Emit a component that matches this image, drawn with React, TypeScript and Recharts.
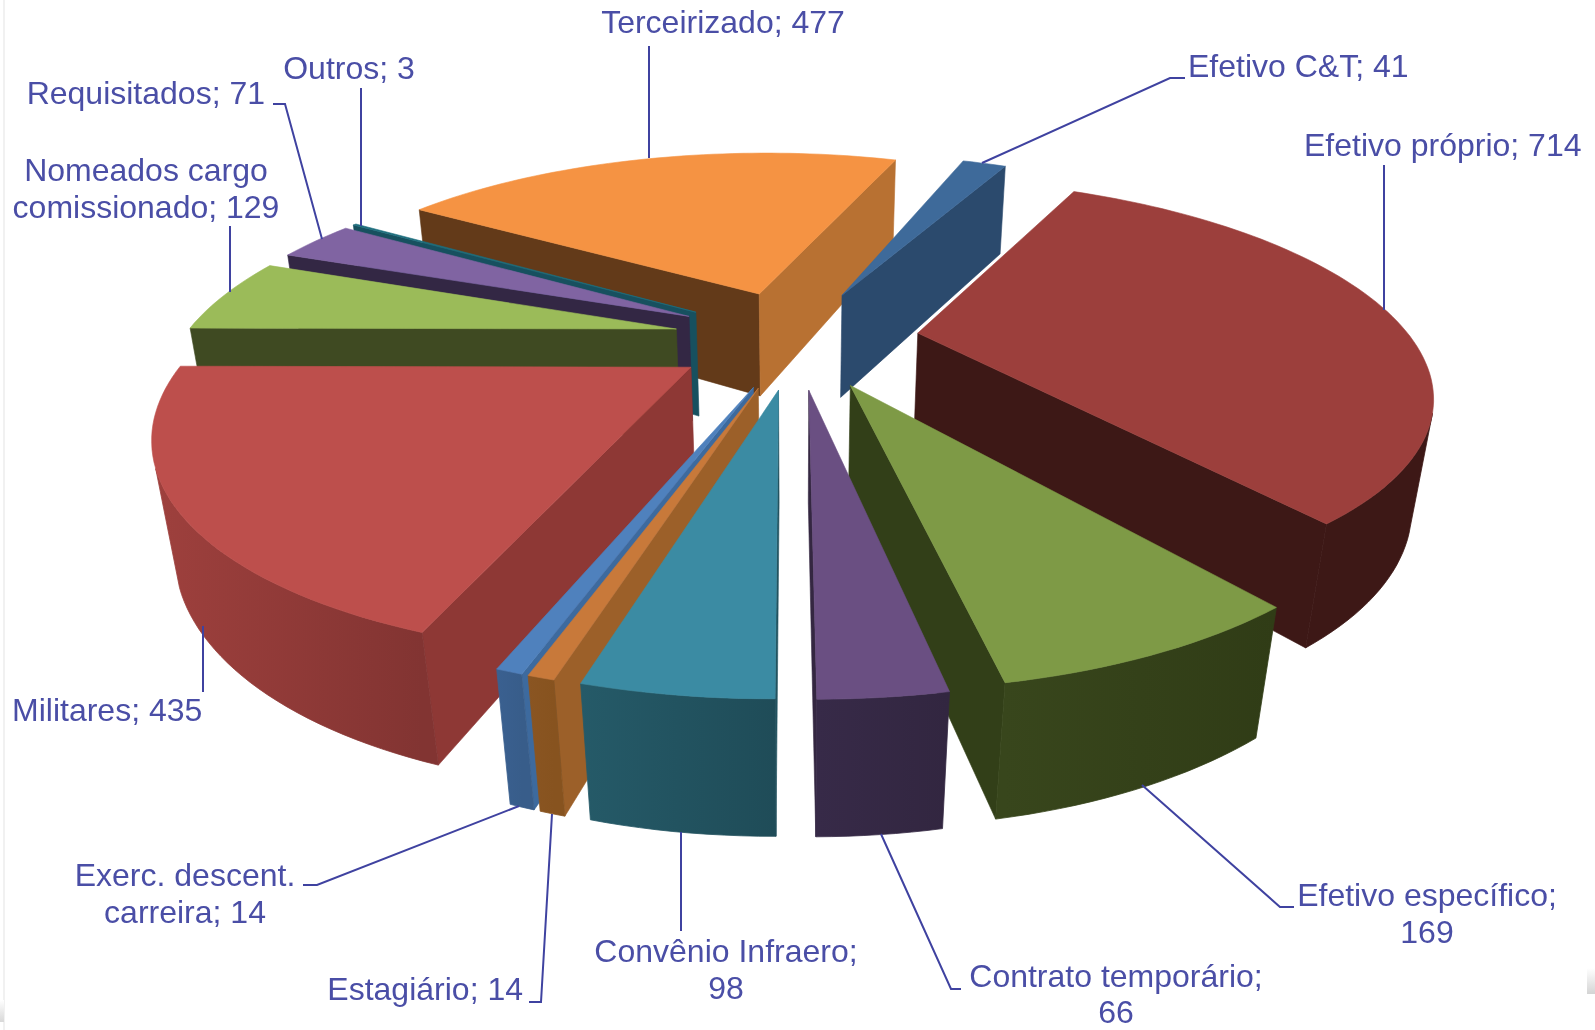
import { Pie, PieChart } from "recharts";

const categories = [
  "Efetivo C&T",
  "Efetivo próprio",
  "Efetivo específico",
  "Contrato temporário",
  "Convênio Infraero",
  "Estagiário",
  "Exerc. descent. carreira",
  "Militares",
  "Nomeados cargo comissionado",
  "Requisitados",
  "Outros",
  "Terceirizado",
];
const values = [41, 714, 169, 66, 98, 14, 14, 435, 129, 71, 3, 477];

const tableData = categories.map((name, i) => ({ name, value: values[i] }));

// face colours, same order as categories
const topColors = ["#3e6a9a", "#9c3f3c", "#7e9a46", "#6a4f82", "#3b8ba3", "#c8793a", "#4f81bd", "#bd4f4c", "#9bbb59", "#8064a2", "#1f6e7e", "#f59343"];
const startWall = ["#2b4a6d", "#3d1816", "#323f18", "#342741", "#22535f", "#9c6029", "#3d6a9e", "#8e3835", "#3f4a22", "#332744", "#17505f", "#633a19"];
const endWall = ["#2b4a6d", "#3d1816", "#323f18", "#342741", "#22535f", "#9c6029", "#3d6a9e", "#8e3835", "#3f4a22", "#332744", "#17505f", "#b87132"];
const rimLight = ["#2b4a6d", "#3d1816", "#38461c", "#372a48", "#255a68", "#8a5522", "#3a6090", "#9e403d", "#3f4a22", "#332744", "#17505f", "#b87132"];
const rimDark = ["#2b4a6d", "#3d1816", "#303c16", "#322640", "#1f4c58", "#87531f", "#385d8a", "#823432", "#3f4a22", "#332744", "#17505f", "#b87132"];

// back to front, the pie has to be painted like that to look solid
const paintOrder = [11, 10, 9, 8, 0, 1, 7, 6, 5, 2, 3, 4];

// text place and leader line for each label
const labelLayout = [
  { x: 1188, y: 77, anchor: "start", wrap: 0, gap: 0, leader: "1185,78 1170,78 982,163" },
  { x: 1304, y: 156, anchor: "start", wrap: 0, gap: 0, leader: "1384,165 1384,310" },
  { x: 1427, y: 906, anchor: "middle", wrap: 19, gap: 36.5, leader: "1294,907 1280,907 1142,785" },
  { x: 1116, y: 987, anchor: "middle", wrap: 20, gap: 36, leader: "961,989 951,989 881,834" },
  { x: 726, y: 962, anchor: "middle", wrap: 18, gap: 36.5, leader: "681,931 681,832" },
  { x: 523, y: 1000, anchor: "end", wrap: 0, gap: 0, leader: "529,1002 541,1002 552,814" },
  { x: 185, y: 886, anchor: "middle", wrap: 15, gap: 36.5, leader: "303,885 317,885 519,806" },
  { x: 12, y: 721, anchor: "start", wrap: 0, gap: 0, leader: "203,692 203,626" },
  { x: 146, y: 181, anchor: "middle", wrap: 14, gap: 36.5, leader: "230,226 230,292" },
  { x: 265, y: 104, anchor: "end", wrap: 0, gap: 0, leader: "273,104 285,104 322,239" },
  { x: 349, y: 79, anchor: "middle", wrap: 0, gap: 0, leader: "361,88 361,226" },
  { x: 723, y: 33, anchor: "middle", wrap: 0, gap: 0, leader: "649,46 649,158" },
];

const CX = 796;
const CY = 338;
const RADIUS = 400;
const EXPLODE = 100;
const UNIT = RADIUS + EXPLODE;
const DEPTH = 110;
const X_SCALE = 1.232;
const Y_SCALE = 0.492;
const PERSPECTIVE = 0.32;
const DEPTH_PERSPECTIVE = 0.033;
const START_ANGLE = 70;
const RAD = Math.PI / 180;

type Pt = [number, number];

function project(cx: number, cy: number, gx: number, gy: number, z: number): Pt {
  const s = 1 / (1 - (PERSPECTIVE * gy) / UNIT - (DEPTH_PERSPECTIVE * z) / DEPTH);
  return [cx + gx * X_SCALE * s, cy + (gy * Y_SCALE - z) * s];
}

function area(p: Pt[]) {
  let sum = 0;
  p.forEach((a, i) => {
    const b = p[(i + 1) % p.length];
    sum += a[0] * b[1] - b[0] * a[1];
  });
  return sum;
}

const toPoints = (p: Pt[]) => p.map((a) => `${a[0].toFixed(1)},${a[1].toFixed(1)}`).join(" ");

function Slice3D(props: any) {
  const { cx, cy, startAngle, endAngle, outerRadius, index } = props;
  const mid = ((startAngle + endAngle) / 2) * RAD;
  const ox = Math.cos(mid) * EXPLODE;
  const oy = -Math.sin(mid) * EXPLODE;
  const at = (deg: number, r: number, z: number) =>
    project(cx, cy, ox + Math.cos(deg * RAD) * r, oy - Math.sin(deg * RAD) * r, z);

  const steps = Math.max(2, Math.ceil(Math.abs(endAngle - startAngle) / 1.5));
  const angles = Array.from({ length: steps + 1 }, (_, i) => startAngle + ((endAngle - startAngle) * i) / steps);

  const tip = at(0, 0, 0);
  const tipLow = at(0, 0, -DEPTH);
  const wallA = [tip, at(startAngle, outerRadius, 0), at(startAngle, outerRadius, -DEPTH), tipLow];
  const wallB = [tip, at(endAngle, outerRadius, 0), at(endAngle, outerRadius, -DEPTH), tipLow];
  const top = [tip, ...angles.map((a) => at(a, outerRadius, 0))];

  // the part of the round side that faces the viewer
  const stripFaces = (a: number, b: number) =>
    area([at(a, outerRadius, 0), at(b, outerRadius, 0), at(b, outerRadius, -DEPTH), at(a, outerRadius, -DEPTH)]) < 0;
  const facing = angles.filter((a, i) => (i < steps ? stripFaces(a, angles[i + 1]) : stripFaces(angles[i - 1], a)));
  const rim = [
    ...facing.map((a) => at(a, outerRadius, 0)),
    ...facing
      .slice()
      .reverse()
      .map((a) => at(a, outerRadius, -DEPTH)),
  ];
  const gradientId = `rim-${index}`;

  return (
    <g>
      {area(wallA) < 0 && <polygon points={toPoints(wallA)} fill={startWall[index]} stroke={startWall[index]} strokeWidth={0.6} />}
      {area(wallB) > 0 && <polygon points={toPoints(wallB)} fill={endWall[index]} stroke={endWall[index]} strokeWidth={0.6} />}
      {facing.length > 1 && (
        <>
          <defs>
            <linearGradient id={gradientId} gradientUnits="userSpaceOnUse" x1={rim[0][0]} y1={0} x2={rim[facing.length - 1][0]} y2={0}>
              <stop offset="0%" stopColor={rimDark[index]} />
              <stop offset="100%" stopColor={rimLight[index]} />
            </linearGradient>
          </defs>
          <polygon points={toPoints(rim)} fill={`url(#${gradientId})`} stroke={`url(#${gradientId})`} strokeWidth={0.8} />
        </>
      )}
      <polygon points={toPoints(top)} fill={topColors[index]} stroke={topColors[index]} strokeWidth={0.6} />
    </g>
  );
}

function SliceLabel(props: any) {
  const { index, name, value } = props;
  const layout = labelLayout[index];
  const text = `${name}; ${value}`;
  const first = layout.wrap ? text.slice(0, layout.wrap) : text;
  const second = layout.wrap ? text.slice(layout.wrap + 1) : "";
  return (
    <g>
      <polyline points={layout.leader} fill="none" stroke="#3f42a0" strokeWidth={2} />
      <text x={layout.x} y={layout.y} textAnchor={layout.anchor} fontFamily="'Liberation Sans', Arial, sans-serif" fontSize={32} fill="#4a4ea6">
        <tspan x={layout.x}>{first}</tspan>
        {second && (
          <tspan x={layout.x} dy={layout.gap}>
            {second}
          </tspan>
        )}
      </text>
    </g>
  );
}

export default function App() {
  return (
    <div style={{ position: "absolute", left: 0, top: 0, width: 1595, height: 1030, background: "#fff", overflow: "hidden" }}>
      {/* faint slide edge and corner shadows of the scanned picture */}
      <div style={{ position: "absolute", left: 3, top: 0, width: 2, height: 1030, background: "#f1f1f1" }} />
      <div style={{ position: "absolute", left: 0, top: 1000, width: 4, height: 22, background: "linear-gradient(#fff, #d8d8d8)" }} />
      <div style={{ position: "absolute", left: 1587, top: 968, width: 8, height: 26, background: "linear-gradient(#fff, #d4d4d4)" }} />
      <div style={{ position: "absolute", left: 0, top: 0, filter: "blur(0.6px)" }}>
        <PieChart width={1595} height={1030} margin={{ top: 0, right: 0, bottom: 0, left: 0 }}>
          {paintOrder.map((slice) => (
            <Pie
              key={slice}
              data={tableData}
              dataKey="value"
              nameKey="name"
              cx={CX}
              cy={CY}
              outerRadius={RADIUS}
              startAngle={START_ANGLE}
              endAngle={START_ANGLE - 360}
              isAnimationActive={false}
              shape={(p: any) => (p.index === slice ? <Slice3D {...p} /> : <g />)}
            />
          ))}
          <Pie
            data={tableData}
            dataKey="value"
            nameKey="name"
            cx={CX}
            cy={CY}
            outerRadius={RADIUS}
            startAngle={START_ANGLE}
            endAngle={START_ANGLE - 360}
            isAnimationActive={false}
            shape={() => <g />}
            label={(p: any) => <SliceLabel {...p} />}
            labelLine={false}
          />
        </PieChart>
      </div>
    </div>
  );
}
